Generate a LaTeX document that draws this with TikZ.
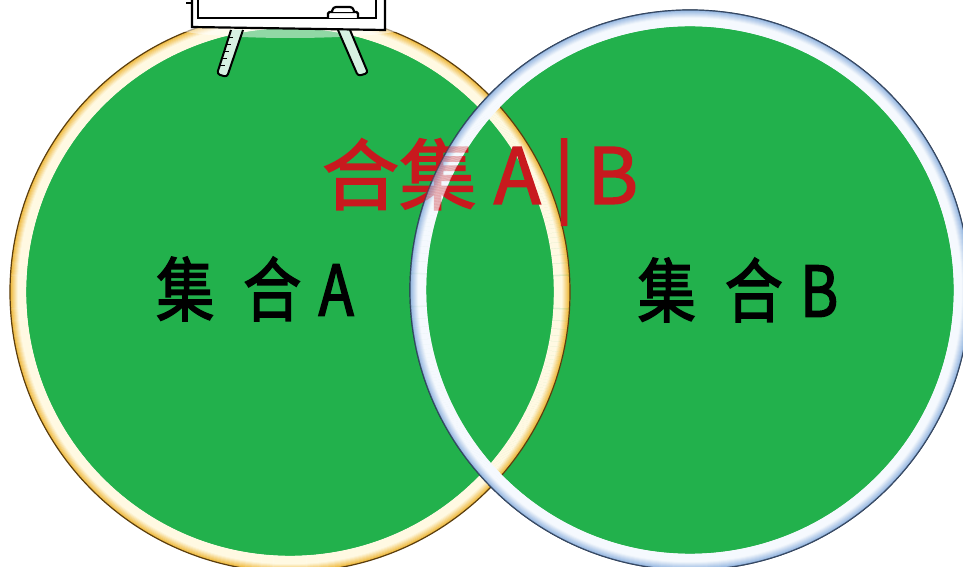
\documentclass[tikz,border=0pt]{standalone}
\usepackage{fontspec}
\usetikzlibrary{positioning, calc}
\newfontfamily\cjk[FakeBold=2.0]{Noto Sans CJK SC}
\newfontfamily\cjkhand[FakeBold=2.4]{Noto Sans CJK SC}
\definecolor{PaintGreen}{HTML}{22B14C}
\definecolor{UnionRed}{HTML}{C8191E}
\definecolor{RingGold}{HTML}{EEB534}
\definecolor{RingCream}{HTML}{FFF9E2}
\definecolor{RingEdgeA}{HTML}{5A3E10}
\definecolor{RingBlue}{HTML}{93B5E0}
\definecolor{RingIce}{HTML}{F5F9FE}
\definecolor{RingEdgeB}{HTML}{22324A}
\definecolor{LegMint}{HTML}{D6F1E2}
% one picture pixel = 0.02cm = 0.567pt
\newcommand{\pxw}{0.567pt}
% glass ring: centre, mid radius, outer colour, inner colour, edge colour
\newcommand{\glassring}[5]{%
  \foreach \k in {0,...,15}{%
    \pgfmathsetmacro{\mixval}{min(100,\k*13)}%
    \draw[line width=1.4*\pxw, color=#4!\mixval!#3] (#1) circle[radius=#2+7.5-\k];
  }
  \draw[line width=1.2*\pxw, color=#5] (#1) circle[radius=#2+8];
}
\tikzset{
  setfill/.style={fill=PaintGreen},
  unionlabel/.style={
    text=UnionRed, inner sep=0pt,
    font=\cjk\fontsize{44}{44}\selectfont
  },
  setname/.style={
    text=black, inner sep=0pt,
    font=\cjkhand\fontsize{33}{33}\selectfont
  },
  boardline/.style={draw=black, line width=2.2*\pxw, fill=white},
  leg/.style={draw=black, line width=2*\pxw, fill=LegMint, rounded corners=3*\pxw}
}

\begin{document}
\begin{tikzpicture}[x=0.02cm, y=-0.02cm]
\useasboundingbox (0,0) rectangle (963,567);

% ── Set centres ───────────────────────────────────────────────────────────────

\coordinate (cA) at (290,292);
\coordinate (cB) at (690,290);

% ── Green discs ───────────────────────────────────────────────────────────────

\fill[setfill] (cA) circle[radius=264];
\fill[setfill] (cB) circle[radius=264];

% ── Rings ─────────────────────────────────────────────────────────────────────

\glassring{cA}{272}{RingGold}{RingCream}{RingEdgeA}
\glassring{cB}{272}{RingBlue}{RingIce}{RingEdgeB}

% ── Labels ────────────────────────────────────────────────────────────────────

\node[unionlabel] (union) at (480,182) {合集 A\,|\,B};
\node[setname] (setA) at (255,289) {\scalebox{1}[1.2]{集\hspace{0.5em}合\hspace{0.3em}A}};
\node[setname] (setB) at (738,290) {\scalebox{1}[1.2]{集\hspace{0.5em}合\hspace{0.3em}B}};

% glass of ring B lies over the union label
\begin{scope}[opacity=0.55]
  \glassring{cB}{272}{RingBlue}{RingIce}{RingEdgeB}
\end{scope}

% ── Whiteboard on top of set A ────────────────────────────────────────────────

\fill[white, opacity=0.5] (290,26) ellipse[x radius=120, y radius=12];
\draw[leg] (231,30) -- (217,74) -- (227,77) -- (243,30);
\foreach \yy in {38,45,52,59,66}
  \draw[line width=1*\pxw] ($(231,30)!{(\yy-30)/44}!(217,74)$) -- ++(5,0);
\draw[leg] (338,30) -- (358,76) -- (368,73) -- (350,30);
\draw[boardline] (192,-6) -- (192,27) -- (385,30) -- (385,-6);
\draw[boardline] (198,-6) -- (198,18) -- (376,18) -- (376,-6);
\draw[boardline, rounded corners=1.5*\pxw] (328,18) -- (328,12) -- (358,12) -- (358,18);
\draw[boardline, rounded corners=3*\pxw] (332,12) -- (333,7) -- (353,7) -- (354,12);
\draw[line width=1.5*\pxw] (186,3) -- (192,3);

\end{tikzpicture}
\end{document}
